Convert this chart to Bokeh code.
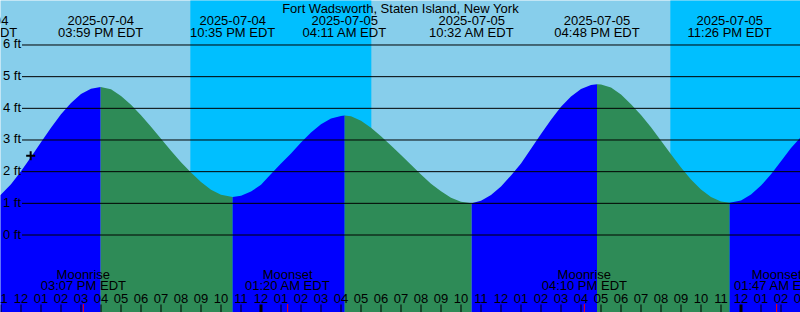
import pandas as pd
from bokeh.plotting import figure
from bokeh.models import Range1d
from bokeh.core.properties import value
from bokeh.embed import file_html
from bokeh.resources import INLINE

TITLE = "Fort Wadsworth, Staten Island, New York"

# Tide height samples (ft)
SAMPLE_TIMES = [
    "2025-07-04 09:43", "2025-07-04 10:30", "2025-07-04 11:00", "2025-07-04 11:30", "2025-07-04 12:00",
    "2025-07-04 12:30", "2025-07-04 13:00", "2025-07-04 13:30", "2025-07-04 14:00", "2025-07-04 14:30",
    "2025-07-04 15:00", "2025-07-04 15:30", "2025-07-04 15:59",
    "2025-07-04 16:30", "2025-07-04 17:00", "2025-07-04 17:30", "2025-07-04 18:00", "2025-07-04 18:30",
    "2025-07-04 19:00", "2025-07-04 19:30", "2025-07-04 20:00", "2025-07-04 20:30", "2025-07-04 21:00",
    "2025-07-04 21:30", "2025-07-04 22:00", "2025-07-04 22:35",
    "2025-07-04 23:00", "2025-07-04 23:30", "2025-07-05 00:00", "2025-07-05 00:30", "2025-07-05 01:00",
    "2025-07-05 01:30", "2025-07-05 02:00", "2025-07-05 02:30", "2025-07-05 03:00", "2025-07-05 03:30",
    "2025-07-05 04:00", "2025-07-05 04:11",
    "2025-07-05 04:30", "2025-07-05 05:00", "2025-07-05 05:30", "2025-07-05 06:00", "2025-07-05 06:30",
    "2025-07-05 07:00", "2025-07-05 07:30", "2025-07-05 08:00", "2025-07-05 08:30", "2025-07-05 09:00",
    "2025-07-05 09:30", "2025-07-05 10:00", "2025-07-05 10:32",
    "2025-07-05 11:00", "2025-07-05 11:30", "2025-07-05 12:00", "2025-07-05 12:30", "2025-07-05 13:00",
    "2025-07-05 13:30", "2025-07-05 14:00", "2025-07-05 14:30", "2025-07-05 15:00", "2025-07-05 15:30",
    "2025-07-05 16:00", "2025-07-05 16:30", "2025-07-05 16:48",
    "2025-07-05 17:00", "2025-07-05 17:30", "2025-07-05 18:00", "2025-07-05 18:30", "2025-07-05 19:00",
    "2025-07-05 19:30", "2025-07-05 20:00", "2025-07-05 20:30", "2025-07-05 21:00", "2025-07-05 21:30",
    "2025-07-05 22:00", "2025-07-05 22:30", "2025-07-05 23:00", "2025-07-05 23:26",
    "2025-07-06 00:00", "2025-07-06 00:30", "2025-07-06 01:00", "2025-07-06 01:30", "2025-07-06 02:00",
    "2025-07-06 02:30", "2025-07-06 03:00",
]
SAMPLE_HEIGHTS = [
    0.90, 1.04, 1.28, 1.60, 2.01,
    2.46, 2.93, 3.39, 3.81, 4.17,
    4.45, 4.62, 4.67,
    4.60, 4.39, 4.11, 3.78, 3.42,
    3.04, 2.66, 2.30, 1.97, 1.67,
    1.43, 1.27, 1.20,
    1.24, 1.37, 1.59, 1.93, 2.26,
    2.57, 2.92, 3.24, 3.50, 3.68,
    3.76, 3.77,
    3.75, 3.61, 3.39, 3.12, 2.83,
    2.53, 2.22, 1.91, 1.62, 1.38,
    1.18, 1.05, 1.00,
    1.08, 1.26, 1.53, 1.88, 2.26,
    2.72, 3.19, 3.64, 4.05, 4.37,
    4.61, 4.74, 4.76,
    4.75, 4.66, 4.44, 4.13, 3.79,
    3.40, 2.98, 2.55, 2.13, 1.75,
    1.44, 1.20, 1.06, 1.02,
    1.09, 1.28, 1.56, 1.92, 2.33,
    2.75, 3.10,
]

# High / low tide events
EXTREME_TIMES = ["2025-07-04 09:43", "2025-07-04 15:59", "2025-07-04 22:35", "2025-07-05 04:11",
                 "2025-07-05 10:32", "2025-07-05 16:48", "2025-07-05 23:26"]
EXTREME_TYPES = ["low", "high", "low", "high", "low", "high", "low"]

# Sun / moon events
SUNSET_TIMES = ["2025-07-04 20:28", "2025-07-05 20:28"]
SUNRISE_TIMES = ["2025-07-05 05:31", "2025-07-06 05:32"]
MOON_TIMES = ["2025-07-04 15:07", "2025-07-05 01:20", "2025-07-05 16:10", "2025-07-06 01:47"]
MOON_NAMES = ["Moonrise", "Moonset", "Moonrise", "Moonset"]

NOW_TIME = "2025-07-04 12:29"
NOW_HEIGHT = 2.50

GRID_FEET = [0, 1, 2, 3, 4, 5, 6]

# ---------------------------------------------------------------- layout
W, H = 800, 312
FONT = value("Liberation Sans")
FS = "13px"
DAY = "#87CEEB"
NIGHT = "#00BFFF"
RISING = "#0000FF"
FALLING = "#2E8B57"
TEXT_SHIFT = -5.0  # px


def ms(s):
    return pd.Timestamp(s).value / 1e6


X_START = ms("2025-07-04 10:58:30")
X_END = X_START + 40 * 3600 * 1000
PX_PER_FT = 31.667
Y_TOP = 234.5 / PX_PER_FT
Y_BOTTOM = (234.5 - H) / PX_PER_FT


def px_x(px):
    return X_START + px / W * (X_END - X_START)


def px_y(py):
    return Y_TOP - py / H * (Y_TOP - Y_BOTTOM)


def txt_y(py):
    return px_y(py + TEXT_SHIFT)


p = figure(width=W, height=H, x_range=Range1d(X_START, X_END), y_range=Range1d(Y_BOTTOM, Y_TOP),
           output_backend="svg", toolbar_location=None, min_border=0,
           x_axis_location=None, y_axis_location=None,
           background_fill_color=DAY, border_fill_color=DAY, outline_line_color=None)
p.grid.visible = False

# night bands
p.quad(left=[ms(t) for t in SUNSET_TIMES], right=[ms(t) for t in SUNRISE_TIMES],
       top=Y_TOP + 1, bottom=Y_BOTTOM - 1, fill_color=NIGHT, line_color=None)

# tide fill
df = pd.DataFrame({"t": [ms(t) for t in SAMPLE_TIMES], "h": SAMPLE_HEIGHTS})
ext_ms = [ms(t) for t in EXTREME_TIMES]
bounds = ext_ms + [df["t"].max()]
for i in range(len(ext_ms)):
    seg = df[(df["t"] >= bounds[i]) & (df["t"] <= bounds[i + 1])]
    color = RISING if EXTREME_TYPES[i] == "low" else FALLING
    p.varea(x=seg["t"], y1=Y_BOTTOM - 1, y2=seg["h"], fill_color=color)

# grid lines and labels
p.segment(x0=px_x(21.5), x1=X_END, y0=GRID_FEET, y1=GRID_FEET, line_color="black", line_width=1)
p.text(x=[px_x(20.5)] * len(GRID_FEET),
       y=[txt_y(234.5 - g * PX_PER_FT + 4) for g in GRID_FEET],
       text=[f"{g} ft" for g in GRID_FEET], text_font=FONT, text_font_size=FS,
       text_align="right", text_baseline="alphabetic", text_color="black")

# title
p.text(x=[px_x(400)], y=[txt_y(12.5)], text=[TITLE], text_font=FONT, text_font_size=FS,
       text_align="center", text_baseline="alphabetic", text_color="black")

# extreme labels
ext_ts = [pd.Timestamp(t) for t in EXTREME_TIMES]
p.text(x=ext_ms, y=[txt_y(24.5)] * len(ext_ms), text=[t.strftime("%Y-%m-%d") for t in ext_ts],
       text_font=FONT, text_font_size=FS, text_align="center", text_baseline="alphabetic",
       text_color="black")
p.text(x=ext_ms, y=[txt_y(37)] * len(ext_ms), text=[t.strftime("%I:%M %p EDT") for t in ext_ts],
       text_font=FONT, text_font_size=FS, text_align="center", text_baseline="alphabetic",
       text_color="black")

# hour ticks
hours = pd.date_range("2025-07-04 11:00", "2025-07-06 03:00", freq="h")
hour_ms = [h.value / 1e6 for h in hours]
normal = [m for m, h in zip(hour_ms, hours) if h.hour != 0]
midnight = [m for m, h in zip(hour_ms, hours) if h.hour == 0]
p.segment(x0=normal, x1=normal, y0=px_y(304), y1=px_y(313), line_color="black", line_width=1)
p.segment(x0=midnight, x1=midnight, y0=px_y(304), y1=px_y(313), line_color="black", line_width=3)
p.text(x=hour_ms, y=[txt_y(303)] * len(hour_ms), text=[h.strftime("%I") for h in hours],
       text_font=FONT, text_font_size=FS, text_align="center", text_baseline="alphabetic",
       text_color="black")

# moon events
moon_ms = [ms(t) for t in MOON_TIMES]
p.segment(x0=moon_ms, x1=moon_ms, y0=px_y(303.5), y1=px_y(313), line_color="#FF0000", line_width=1)
p.text(x=moon_ms, y=[txt_y(278.5)] * len(moon_ms), text=MOON_NAMES, text_font=FONT,
       text_font_size=FS, text_align="center", text_baseline="alphabetic", text_color="black")
p.text(x=moon_ms, y=[txt_y(290)] * len(moon_ms),
       text=[pd.Timestamp(t).strftime("%I:%M %p EDT") for t in MOON_TIMES], text_font=FONT,
       text_font_size=FS, text_align="center", text_baseline="alphabetic", text_color="black")

# current time marker
p.scatter(x=[ms(NOW_TIME)], y=[NOW_HEIGHT], marker="cross", size=9, line_color="black", line_width=2)

open("out.html", "w").write(file_html(p, INLINE))
